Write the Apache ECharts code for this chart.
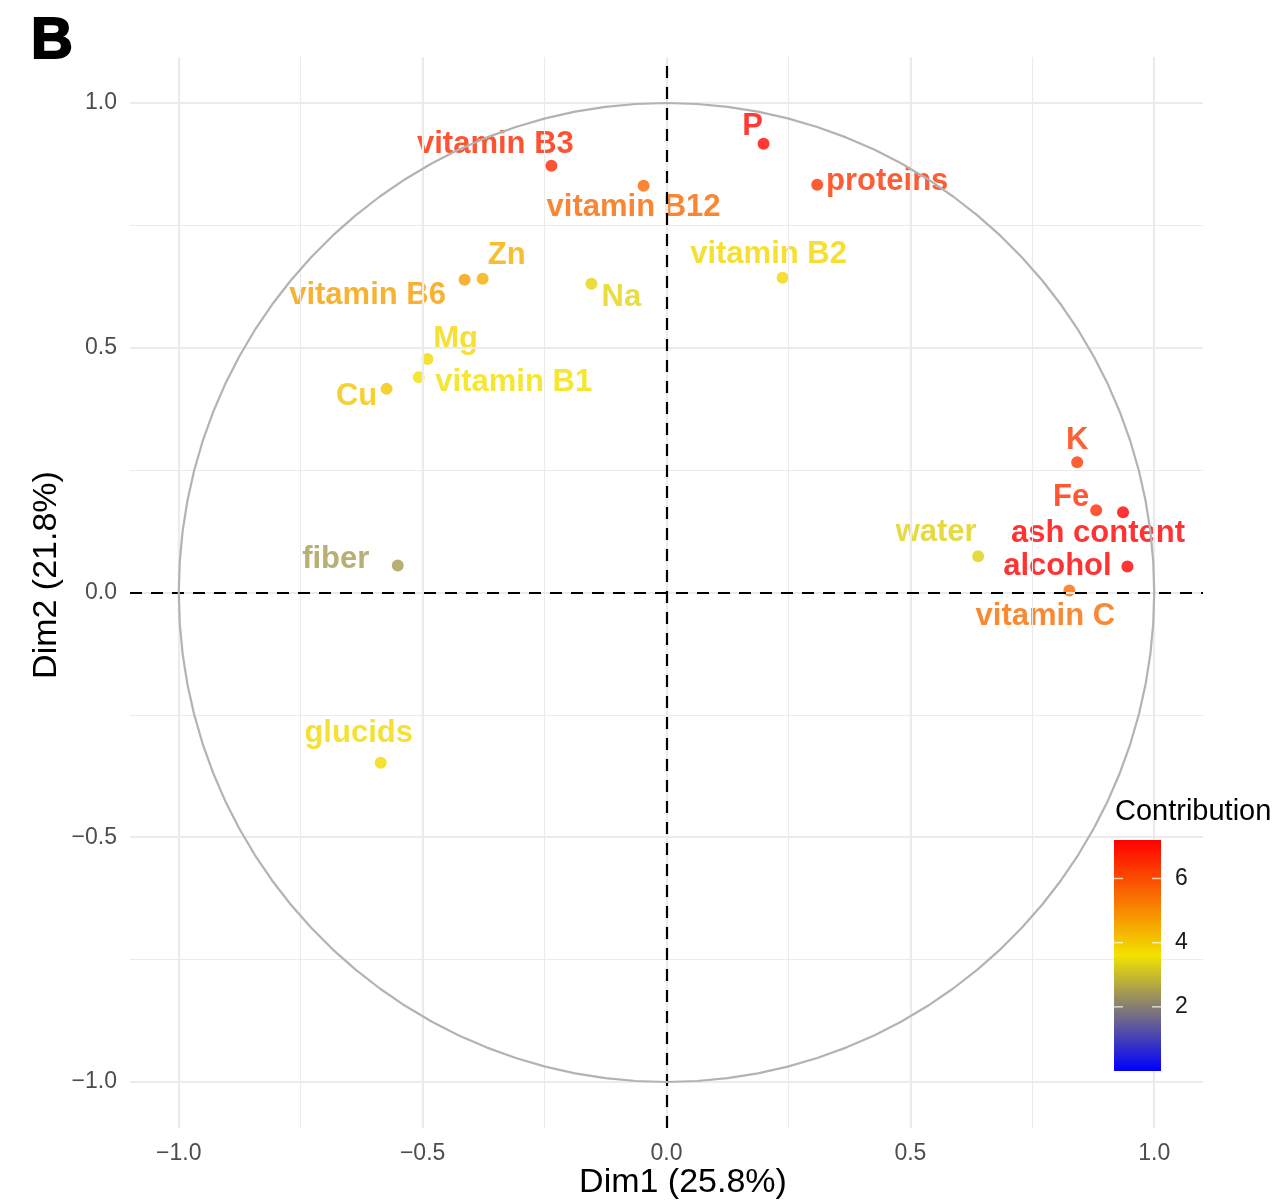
<!DOCTYPE html>
<html>
<head>
<meta charset="utf-8">
<script src="https://cdn.jsdelivr.net/npm/echarts@6/dist/echarts.min.js"></script>
<style>
html,body{margin:0;padding:0;background:#fff;}
#chart{width:1273px;height:1203px;}
</style>
</head>
<body>
<div id="chart"></div>
<script>
// ---- data ----
const names = ['vitamin B3','vitamin B12','P','proteins','vitamin B2','Zn','vitamin B6','Na','Mg','vitamin B1','Cu','K','Fe','ash content','water','alcohol','vitamin C','fiber','glucids'];
const dim1 = [-0.236,-0.047,0.199,0.309,0.238,-0.377,-0.414,-0.154,-0.490,-0.508,-0.574,0.842,0.881,0.936,0.639,0.945,0.826,-0.551,-0.586];
const dim2 = [0.872,0.831,0.917,0.833,0.643,0.641,0.639,0.631,0.477,0.440,0.416,0.266,0.168,0.164,0.074,0.053,0.004,0.055,-0.348];
const contrib = [6.56,5.57,7.08,6.35,3.78,4.45,4.66,3.39,3.76,3.63,4.04,6.27,6.47,7.26,3.33,7.20,5.49,2.47,3.73];
const axisTicks = [-1.0,-0.5,0.0,0.5,1.0];
const minorLines = [-0.75,-0.25,0.25,0.75];
const colorTicks = [2,4,6];
const colorMin = 0, colorMax = 7.2;
const xTitle = 'Dim1 (25.8%)', yTitle = 'Dim2 (21.8%)', legendTitle = 'Contribution', panelTag = 'B';

// ---- layout (label placement, not data) ----
const labelOffsets = [[-56,-21],[-10,22],[-11,-17],[70,-3],[-14,-23],[24,-23],[-97,16],[30,14],[28,-20],[95,5],[-30,8],[0,-22],[-25,-13],[-25,21],[-42,-24],[-70,0],[-24,26],[-62,-6],[-22,-29]];

const FONT = 'Liberation Sans, Arial, Helvetica, sans-serif';
const C_LOW=[0,0,255], C_MID=[242,226,0], C_HIGH=[255,0,0];

function lerp(a,b,t){return Math.round(a+(b-a)*t);}
function colorFor(v){
  const mid = (colorMin+colorMax)/2;
  let c1,c2,t;
  if (v<=mid){c1=C_LOW;c2=C_MID;t=(v-colorMin)/(mid-colorMin);}
  else {c1=C_MID;c2=C_HIGH;t=(v-mid)/(colorMax-mid);}
  t=Math.max(0,Math.min(1,t));
  return 'rgb('+lerp(c1[0],c2[0],t)+','+lerp(c1[1],c2[1],t)+','+lerp(c1[2],c2[2],t)+')';
}

const pts = names.map((n,i)=>{
  const col = colorFor(contrib[i]);
  return {
    name:n, value:[dim1[i],dim2[i],contrib[i]],
    itemStyle:{color:col},
    label:{show:true, formatter:n, position:'inside', offset:labelOffsets[i], color:col,
      fontSize:31, fontWeight:'bold', fontFamily:FONT, align:'center', verticalAlign:'middle'}
  };
});

// unit correlation circle (reference geometry)
const circle=[];
for(let k=0;k<=100;k++){const a=2*Math.PI*k/100;circle.push([Math.cos(a),Math.sin(a)]);}

const gridLines=[];
axisTicks.forEach(v=>{gridLines.push({xAxis:v,lineStyle:{width:2.2}});gridLines.push({yAxis:v,lineStyle:{width:2.2}});});
minorLines.forEach(v=>{gridLines.push({xAxis:v,lineStyle:{width:1.1}});gridLines.push({yAxis:v,lineStyle:{width:1.1}});});

function fmt(v){ if(Math.abs(v)<1e-9) return '0.0'; return (v<0?'\u2212':'')+Math.abs(v).toFixed(1); }

const axisCommon = {
  type:'value',
  axisLine:{show:false}, splitLine:{show:false},
  axisTick:{show:true, length:7, lineStyle:{color:'#222',width:2}, customValues:axisTicks},
  axisLabel:{customValues:axisTicks, formatter:fmt, color:'#4D4D4D', fontSize:23, fontFamily:FONT}
};

// colour bar legend
const cb = {x:1114, y:840, w:47, h:231};
function cbY(v){return cb.y+cb.h-(v-colorMin)/(colorMax-colorMin)*cb.h;}
const stops=[];
for(let k=0;k<=40;k++){const v=colorMax-(colorMax-colorMin)*k/40;stops.push({offset:k/40,color:colorFor(v)});}
const graphics=[
  {type:'text', z:100, left:30, top:12, style:{text:panelTag, fontSize:58, fontWeight:900, fontFamily:FONT, fill:'#000', stroke:'#000', lineWidth:2}},
  {type:'text', z:100, x:683, y:1183, style:{text:xTitle, fontSize:34, fontFamily:FONT, fill:'#000', align:'center', verticalAlign:'middle'}},
  {type:'text', z:100, x:47, y:575, rotation:Math.PI/2, style:{text:yTitle, fontSize:34, fontFamily:FONT, fill:'#000', align:'center', verticalAlign:'middle'}},
  {type:'text', z:100, left:1115, top:797, style:{text:legendTitle, fontSize:29, fontFamily:FONT, fill:'#000'}},
  {type:'rect', z:100, shape:{x:cb.x,y:cb.y,width:cb.w,height:cb.h}, style:{fill:new echarts.graphic.LinearGradient(0,0,0,1,stops)}}
];
colorTicks.forEach(v=>{
  const y=cbY(v);
  graphics.push({type:'line',z:101,shape:{x1:cb.x,y1:y,x2:cb.x+9,y2:y},style:{stroke:'rgba(255,255,255,0.7)',lineWidth:1.5}});
  graphics.push({type:'line',z:101,shape:{x1:cb.x+cb.w-9,y1:y,x2:cb.x+cb.w,y2:y},style:{stroke:'rgba(255,255,255,0.7)',lineWidth:1.5}});
  graphics.push({type:'text',z:101,x:cb.x+cb.w+14,y:y,style:{text:String(v),fontSize:23,fontFamily:FONT,fill:'#1a1a1a',verticalAlign:'middle'}});
});

const chart = echarts.init(document.getElementById('chart'));
chart.setOption({
  animation:false,
  backgroundColor:'#fff',
  textStyle:{fontFamily:FONT},
  grid:{left:130,right:70,top:57,bottom:75},
  xAxis:Object.assign({},axisCommon,{min:-1.1,max:1.1,axisLabel:Object.assign({},axisCommon.axisLabel,{margin:14})}),
  yAxis:Object.assign({},axisCommon,{min:-1.094,max:1.094,axisLabel:Object.assign({},axisCommon.axisLabel,{margin:13})}),
  graphic:graphics,
  series:[
    {type:'line', data:[], silent:true, z:1,
      markLine:{silent:true, symbol:['none','none'], label:{show:false}, lineStyle:{color:'#EBEBEB',type:'solid'}, data:gridLines}},
    {type:'scatter', data:pts, symbolSize:12, z:3},
    {type:'line', data:circle, showSymbol:false, silent:true, z:5, lineStyle:{color:'#B3B3B3',width:2.2}},
    {type:'line', data:[], silent:true, z:6,
      markLine:{silent:true, symbol:['none','none'], label:{show:false}, lineStyle:{color:'#000',type:[12,9],width:2.2}, data:[{xAxis:0},{yAxis:0}]}}
  ]
});
</script>
</body>
</html>
